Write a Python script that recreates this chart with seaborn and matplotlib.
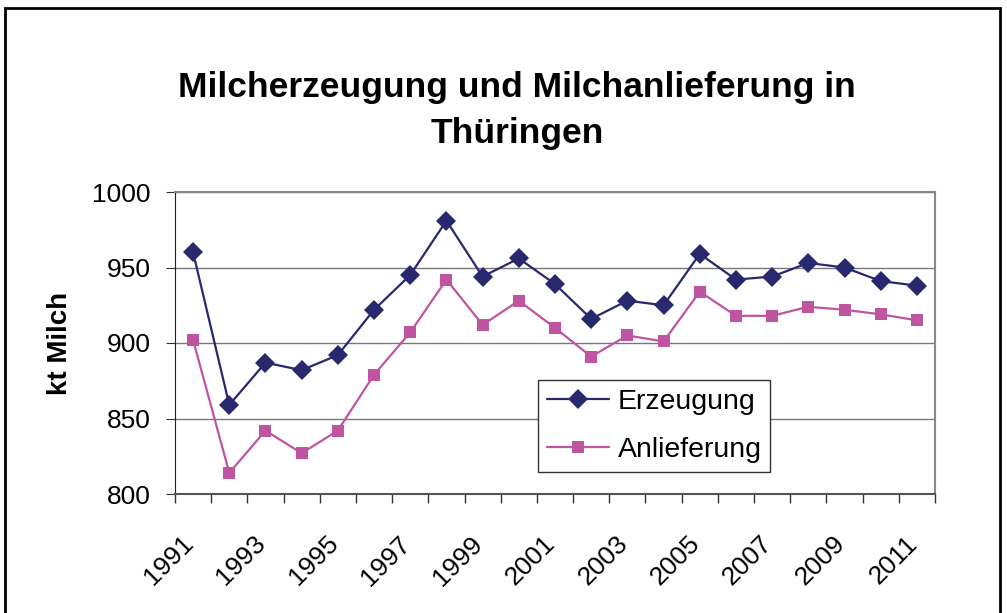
import matplotlib
matplotlib.use("Agg")
import matplotlib.pyplot as plt
import pandas as pd
import seaborn as sns
from matplotlib.patches import Rectangle
from matplotlib.transforms import ScaledTranslation

sns.set_style("white")
plt.rcParams["font.family"] = ["Liberation Sans", "DejaVu Sans"]
plt.rcParams["text.color"] = "black"
plt.rcParams["axes.labelcolor"] = "black"
plt.rcParams["xtick.color"] = "black"
plt.rcParams["ytick.color"] = "black"

years = list(range(1991, 2012))
erzeugung = [960, 859, 887, 882, 892, 922, 945, 981, 944, 956, 939,
             916, 928, 925, 959, 942, 944, 953, 950, 941, 938]
anlieferung = [902, 814, 842, 827, 842, 879, 907, 942, 912, 928, 910,
               891, 905, 901, 934, 918, 918, 924, 922, 919, 915]

df = pd.DataFrame({"year": years, "Erzeugung": erzeugung, "Anlieferung": anlieferung})
df["pos"] = range(len(df))
df_long = df.melt(id_vars=["year", "pos"], value_vars=["Erzeugung", "Anlieferung"],
                  var_name="Serie", value_name="kt")

fig = plt.figure(figsize=(10.07, 6.13), dpi=100)
ax = fig.add_axes([175 / 1007, 1 - 494 / 613, 760 / 1007, 302 / 613])

colors = {"Erzeugung": "#28286F", "Anlieferung": "#BF55A0"}
sns.lineplot(data=df_long, x="pos", y="kt", hue="Serie", style="Serie",
             palette=colors, markers={"Erzeugung": "D", "Anlieferung": "s"},
             dashes=False, markersize=10, markeredgewidth=0, linewidth=1.6,
             ax=ax)

# squares a bit smaller than the diamonds
for line in ax.lines:
    if line.get_marker() == "s":
        line.set_markersize(9)

ax.set_ylim(800, 1000)
ax.set_xlim(-0.5, len(years) - 0.5)
ax.set_yticks([800, 850, 900, 950, 1000])
ax.yaxis.grid(True, color="#777777", linewidth=1)
ax.set_axisbelow(True)

# category boundaries as tick marks, labels every second year
ax.set_xticks([i - 0.5 for i in range(len(years) + 1)])
ax.set_xticklabels([])
ax.set_xticks(list(range(0, len(years), 2)), minor=True)
ax.set_xticklabels([str(y) for y in years[::2]], minor=True, rotation=45,
                   ha="right", va="top", rotation_mode="anchor", fontsize=19)
ax.tick_params(axis="x", which="major", direction="out", length=6.5, color="#333333", width=1)
ax.tick_params(axis="x", which="minor", length=0, pad=27)
ax.tick_params(axis="y", direction="out", length=6.5, labelsize=19, color="#333333", pad=11)
ax.tick_params(bottom=True, left=True)
shift = ScaledTranslation(-12 / 100, 0, fig.dpi_scale_trans)
for lab in ax.get_xticklabels(minor=True):
    lab.set_transform(lab.get_transform() + shift)

for side in ["top", "right"]:
    ax.spines[side].set_color("#888888")
    ax.spines[side].set_linewidth(1.5)
ax.spines["left"].set_color("#222222")
ax.spines["bottom"].set_color("#555555")
ax.spines["bottom"].set_linewidth(1.5)

ax.set_xlabel("")
ax.set_ylabel("kt Milch", fontsize=20, fontweight="bold", labelpad=14)

leg = ax.legend(loc="lower left", bbox_to_anchor=((538 - 175) / 760, (494 - 472) / 302),
                borderaxespad=0, fontsize=20.5, frameon=True, fancybox=False,
                edgecolor="#333333", handlelength=2.2, borderpad=0.3,
                labelspacing=0.8, handletextpad=0.3)
leg.get_frame().set_linewidth(1)
leg.get_frame().set_alpha(1)

fig.text(517 / 1007, 1 - 111 / 613, "Milcherzeugung und Milchanlieferung in\nThüringen",
         ha="center", va="center", fontsize=25.5, fontweight="bold", linespacing=1.5)

fig.patches.append(Rectangle((5 / 1007, -0.05), 995 / 1007, 1.05 - 8 / 613,
                             transform=fig.transFigure, fill=False,
                             edgecolor="black", linewidth=2))

fig.savefig("out.png", dpi=100)
